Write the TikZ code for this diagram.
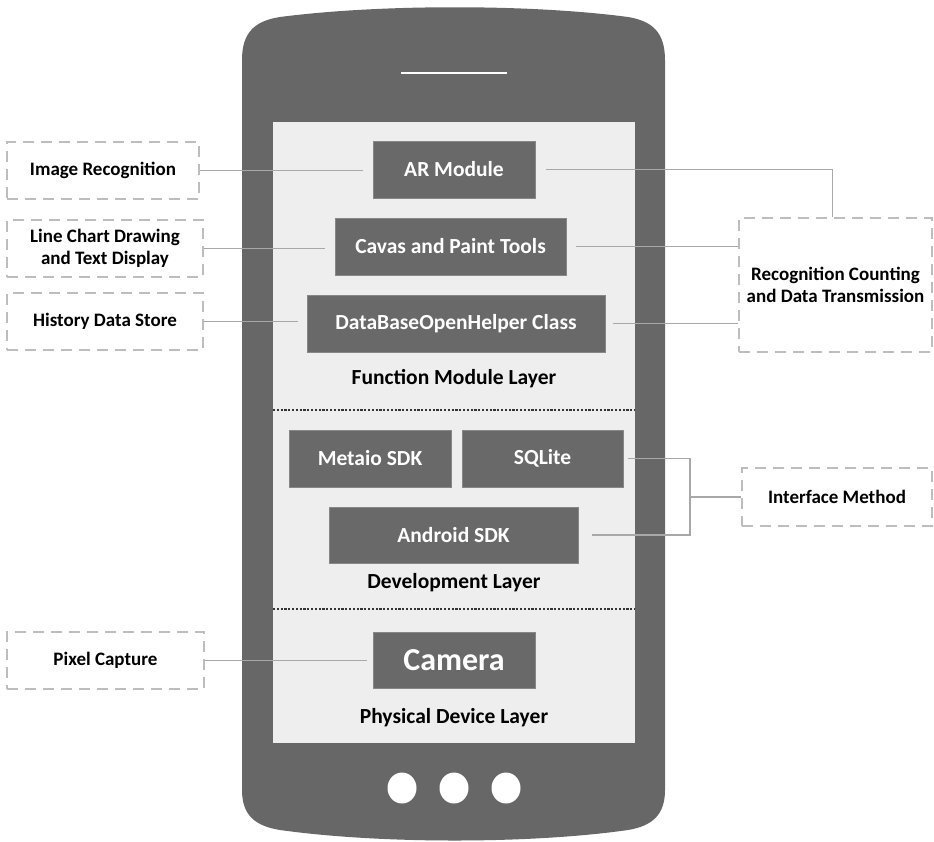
\documentclass[tikz,border=0pt]{standalone}
\usepackage{fontspec}
\setmainfont{Carlito}
\usetikzlibrary{calc}
\definecolor{phone}{HTML}{676767}
\definecolor{screen}{HTML}{EEEEEE}
\definecolor{boxfill}{HTML}{696969}
\definecolor{dashcol}{HTML}{BDBDBD}
\definecolor{conncol}{HTML}{A8A8A8}
\tikzset{
  modbox/.style={fill=boxfill, draw=boxfill!80!white, line width=0.6pt, text=white, font=\bfseries\fontsize{21.5}{23}\selectfont, minimum height=57pt, inner sep=0pt},
  dbox/.style={draw=dashcol, line width=1.6pt, dash pattern=on 11pt off 7pt, fill=white, font=\bfseries\fontsize{19}{22.5}\selectfont, align=center, inner sep=0pt, minimum height=57pt},
  layerlabel/.style={font=\bfseries\fontsize{21.5}{23}\selectfont, text=black},
  conn/.style={draw=conncol, line width=1.6pt},
  sep/.style={draw=black!80, line width=1.2pt, dash pattern=on 2.2pt off 1.6pt}
}
\begin{document}
\begin{tikzpicture}[x=1pt,y=-1pt]
\useasboundingbox (0,0) rectangle (934,841);
% phone body
\fill[phone] (242,60) .. controls (242,32) and (255,21) .. (280,17)
  .. controls (380,4) and (530,4) .. (628,17)
  .. controls (652,21) and (665,32) .. (665,60)
  -- (665,790)
  .. controls (665,815) and (652,826) .. (628,830)
  .. controls (530,844) and (380,844) .. (280,830)
  .. controls (255,826) and (242,815) .. (242,790) -- cycle;
% screen
\fill[screen] (273,122) rectangle (635,743);
% speaker line
\draw[white, line width=1.4pt] (401,73) -- (507,73);
% buttons
\foreach \cx in {402,454,506} \fill[white] (\cx,788) ellipse (14.5pt and 15.5pt);
% separators
\draw[sep] (273,410) -- (635,410);
\draw[sep] (273,609) -- (635,609);

\node[modbox, minimum width=162pt] (ar) at (454,169.5) {AR Module};
\node[modbox, minimum width=231pt] (cav) at (450.5,246.5) {Cavas and Paint Tools};
\node[modbox, minimum width=298pt] (db) at (456,323.5) {DataBaseOpenHelper Class};
\node[layerlabel] (fml) at (454,379) {Function Module Layer};
\node[modbox, minimum width=162pt] (met) at (370,458.5) {Metaio SDK};
\node[modbox, minimum width=161pt] (sql) at (542.5,458.5) {SQLite};
\node[modbox, minimum width=249pt, minimum height=56pt] (and) at (453.5,535) {Android SDK};
\node[layerlabel] (devl) at (454,583) {Development Layer};
\node[modbox, minimum width=162pt, minimum height=56pt, font=\bfseries\fontsize{32}{34}\selectfont] (cam) at (454,660) {Camera};
\node[layerlabel] (phl) at (454,718) {Physical Device Layer};

\node[dbox, minimum width=192pt] (img) at (103,170.5) {Image Recognition};
\node[dbox, minimum width=196pt] (line) at (105,248.5) {Line Chart Drawing\\and Text Display};
\node[dbox, minimum width=196pt] (hist) at (105,321.5) {History Data Store};
\node[dbox, minimum width=197pt] (pix) at (105.5,660.5) {Pixel Capture};
\node[dbox, minimum width=193pt, minimum height=134pt] (rec) at (835.5,285) {Recognition Counting\\and Data Transmission};
\node[dbox, minimum width=190pt, minimum height=58pt] (intf) at (837,497) {Interface Method};

\draw[conn, shorten >=10pt] (img.east) -- (img.east -| ar.west);
\draw[conn, shorten >=10pt] (line.east) -- (line.east -| cav.west);
\draw[conn, shorten >=9pt] (hist.east) -- (hist.east -| db.west);
\draw[conn, shorten >=6pt] (pix.east) -- (pix.east -| cam.west);
\draw[conn, shorten <=11pt] (ar.east) -| ([xshift=-3pt]rec.north);
\draw[conn, shorten <=10pt] (cav.east) -- (cav.east -| rec.west);
\draw[conn, shorten <=8pt] (db.east) -- (db.east -| rec.west);
\draw[conn] ([xshift=5pt]sql.east) -- (690,458.5) coordinate (b1) |- ([xshift=14pt]and.east);
\draw[conn] (b1 |- intf.west) -- (intf.west);
\end{tikzpicture}
\end{document}
